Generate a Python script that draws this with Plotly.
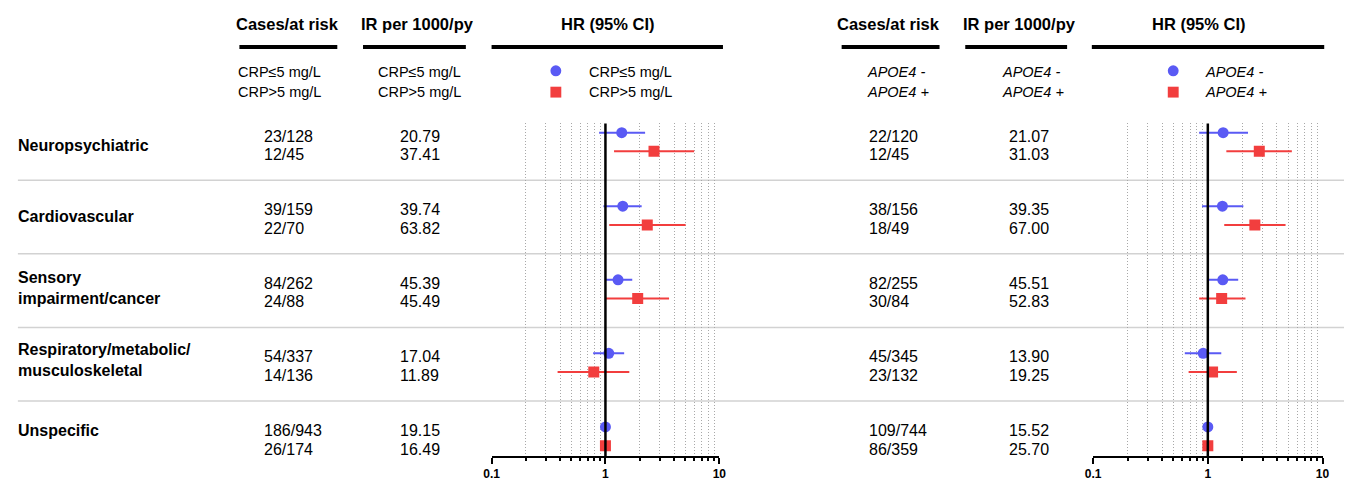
import plotly.graph_objects as go

# ---------------- data ----------------
categories = ["Neuropsychiatric", "Cardiovascular", "Sensory<br>impairment/cancer",
              "Respiratory/metabolic/<br>musculoskeletal", "Unspecific"]

crp_labels = ["CRP\u22645 mg/L", "CRP>5 mg/L"]
crp_cases_low = ["23/128", "39/159", "84/262", "54/337", "186/943"]
crp_cases_high = ["12/45", "22/70", "24/88", "14/136", "26/174"]
crp_ir_low = ["20.79", "39.74", "45.39", "17.04", "19.15"]
crp_ir_high = ["37.41", "63.82", "45.49", "11.89", "16.49"]
crp_hr_low = [1.39, 1.42, 1.29, 1.07, 1.00]
crp_lo_low = [0.88, 0.96, 0.99, 0.78, 1.00]
crp_hi_low = [2.23, 2.08, 1.72, 1.46, 1.00]
crp_hr_high = [2.67, 2.33, 1.92, 0.79, 1.00]
crp_lo_high = [1.19, 1.08, 1.01, 0.38, 1.00]
crp_hi_high = [6.01, 5.06, 3.62, 1.62, 1.00]

apoe_labels = ["<i>APOE4 -</i>", "<i>APOE4 +</i>"]
apoe_cases_neg = ["22/120", "38/156", "82/255", "45/345", "109/744"]
apoe_cases_pos = ["12/45", "18/49", "30/84", "23/132", "86/359"]
apoe_ir_neg = ["21.07", "39.35", "45.51", "13.90", "15.52"]
apoe_ir_pos = ["31.03", "67.00", "52.83", "19.25", "25.70"]
apoe_hr_neg = [1.36, 1.34, 1.35, 0.91, 1.00]
apoe_lo_neg = [0.84, 0.89, 0.99, 0.63, 1.00]
apoe_hi_neg = [2.24, 2.04, 1.84, 1.31, 1.00]
apoe_hr_pos = [2.81, 2.57, 1.32, 1.10, 1.00]
apoe_lo_pos = [1.45, 1.39, 0.84, 0.68, 1.00]
apoe_hi_pos = [5.40, 4.76, 2.13, 1.79, 1.00]

headers = ["Cases/at risk", "IR per 1000/py", "HR (95% CI)"]
tick_vals = [0.1, 1, 10]
tick_text = ["<b>0.1</b>", "<b>1</b>", "<b>10</b>"]
minor_vals = [0.2, 0.3, 0.4, 0.5, 0.6, 0.7, 0.8, 0.9, 2, 3, 4, 5, 6, 7, 8, 9]

# ---------------- style ----------------
W, H = 1351, 481
BLUE = "#5a5af4"
RED = "#f23e3e"
FONT = "Arial, Liberation Sans, Helvetica, sans-serif"
OFF = 0.127           # row offset inside a group (group units)
SEP = 0.52            # separator position offset


def px(x):
    return x / W


def py(y):
    return 1 - y / H


rows_a = [i - OFF for i in range(len(categories))]
rows_b = [i + OFF for i in range(len(categories))]

fig = go.Figure()


def add_series(xa, hr, lo, hi, rows, color, symbol, name):
    fig.add_trace(go.Scatter(
        x=hr, y=rows, xaxis=xa, yaxis="y", mode="markers", name=name,
        marker=dict(color=color, symbol=symbol, size=11, line=dict(width=0)),
        error_x=dict(type="data", symmetric=False,
                     array=[h - m for h, m in zip(hi, hr)],
                     arrayminus=[m - l for m, l in zip(hr, lo)],
                     color=color, thickness=2, width=0),
        showlegend=False, hoverinfo="skip"))


add_series("x", crp_hr_low, crp_lo_low, crp_hi_low, rows_a, BLUE, "circle", crp_labels[0])
add_series("x", crp_hr_high, crp_lo_high, crp_hi_high, rows_b, RED, "square", crp_labels[1])
add_series("x2", apoe_hr_neg, apoe_lo_neg, apoe_hi_neg, rows_a, BLUE, "circle", apoe_labels[0])
add_series("x2", apoe_hr_pos, apoe_lo_pos, apoe_hi_pos, rows_b, RED, "square", apoe_labels[1])

ydom = [py(461.7), py(125)]
yrange = [(461.7 - 143.8) / 74.5, (125 - 143.8) / 74.5]

xaxis_common = dict(
    type="log", range=[-1, 1], anchor="y", showgrid=False, zeroline=False,
    showline=True, linecolor="black", linewidth=2,
    ticks="outside", ticklen=6, tickwidth=2, tickcolor="black",
    tickmode="array", tickvals=tick_vals, ticktext=tick_text,
    tickfont=dict(family=FONT, size=12, color="black"),
    minor=dict(tickmode="array", tickvals=minor_vals, ticks="outside", ticklen=3,
               tickwidth=2, tickcolor="black", showgrid=True, gridcolor="#a8a8a8",
               griddash="1px,2px", gridwidth=1),
    fixedrange=True,
)

fig.update_layout(
    width=W, height=H, margin=dict(l=0, r=0, t=0, b=0),
    paper_bgcolor="white", plot_bgcolor="rgba(0,0,0,0)",
    xaxis=dict(domain=[px(489), px(719.3)], **xaxis_common),
    xaxis2=dict(domain=[px(1097.3), px(1329.3)], **xaxis_common),
    yaxis=dict(domain=ydom, range=yrange, visible=False, fixedrange=True),
    font=dict(family=FONT, color="black"),
)

shapes = []
# separators
for i in range(len(categories) - 1):
    shapes.append(dict(type="line", xref="paper", yref="y", x0=px(10), x1=1,
                       y0=i + SEP, y1=i + SEP, line=dict(color="#d2d2d2", width=1.5),
                       layer="below"))
# reference lines at HR = 1
for xr in ["x", "x2"]:
    shapes.append(dict(type="line", xref=xr, yref="y domain", x0=1, x1=1, y0=0, y1=1,
                       line=dict(color="black", width=2.5)))
# header underlines
for x0, x1 in [(234, 333), (359, 463), (489, 723), (843, 942), (968, 1071), (1096, 1331)]:
    shapes.append(dict(type="line", xref="paper", yref="paper", x0=px(x0), x1=px(x1),
                       y0=py(47.7), y1=py(47.7), line=dict(color="black", width=4)))
# legend keys
for cx in [554, 1178.3]:
    r = 5.5
    shapes.append(dict(type="circle", xref="paper", yref="paper",
                       x0=px(cx - r), x1=px(cx + r), y0=py(71.7 + r), y1=py(71.7 - r),
                       fillcolor=BLUE, line=dict(width=0)))
    shapes.append(dict(type="rect", xref="paper", yref="paper",
                       x0=px(cx - r), x1=px(cx + r), y0=py(93.3 + r), y1=py(93.3 - r),
                       fillcolor=RED, line=dict(width=0)))
fig.update_layout(shapes=shapes)

ann = []


def text(x, y, s, size, anchor="left", yref="paper", yshift=0):
    ann.append(dict(x=px(x), y=(py(y) if yref == "paper" else y), xref="paper", yref=yref,
                    text=s, showarrow=False, xanchor=anchor, yanchor="middle",
                    align="left", yshift=yshift,
                    font=dict(family=FONT, size=size, color="black")))


# headers
for cx, s in zip([283, 414.5, 606.5], headers):
    text(cx, 24, "<b>" + s + "</b>", 16.5, "center")
for cx, s in zip([890.5, 1023, 1204.5], headers):
    text(cx, 24, "<b>" + s + "</b>", 16.5, "center")

# sub-legends
for i, yy in enumerate([73, 93]):
    text(231, yy, crp_labels[i], 14.5)
    text(372, yy, crp_labels[i], 14.5)
    text(585, yy, crp_labels[i], 14.5)
    text(867, yy, apoe_labels[i], 14.5)
    text(1003, yy, apoe_labels[i], 14.5)
    text(1208, yy, apoe_labels[i], 14.5)

# category labels
cat_shift = [-3, -1, 1, 3, 6]
for i, c in enumerate(categories):
    text(8, i, "<b>" + c + "</b>", 16, yref="y", yshift=cat_shift[i])

# table values
for i in range(len(categories)):
    text(257, rows_a[i], crp_cases_low[i], 16, yref="y", yshift=-3.5)
    text(257, rows_b[i], crp_cases_high[i], 16, yref="y", yshift=-3.5)
    text(394, rows_a[i], crp_ir_low[i], 16, yref="y", yshift=-3.5)
    text(394, rows_b[i], crp_ir_high[i], 16, yref="y", yshift=-3.5)
    text(869, rows_a[i], apoe_cases_neg[i], 16, yref="y", yshift=-3.5)
    text(869, rows_b[i], apoe_cases_pos[i], 16, yref="y", yshift=-3.5)
    text(1010.5, rows_a[i], apoe_ir_neg[i], 16, yref="y", yshift=-3.5)
    text(1010.5, rows_b[i], apoe_ir_pos[i], 16, yref="y", yshift=-3.5)

fig.update_layout(annotations=ann)
fig.write_html("out.html", config={"displayModeBar": False},
               post_script="document.body.style.margin='0px';"
                           "document.body.style.overflow='hidden';")
